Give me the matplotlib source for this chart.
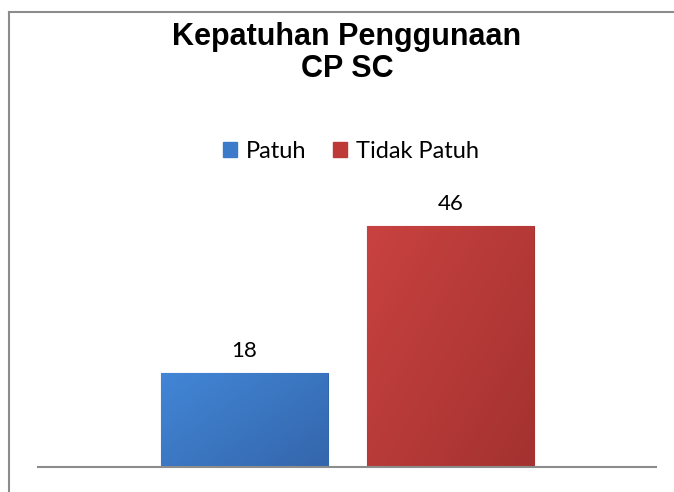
import numpy as np
import matplotlib.pyplot as plt
from matplotlib.lines import Line2D
from matplotlib.colors import LinearSegmentedColormap

series = ["Patuh", "Tidak Patuh"]
values = [18, 46]
colors = ["#3B7BC9", "#BD3A37"]
light = ["#4286D6", "#C84240"]
dark = ["#3466AC", "#A43230"]

fig = plt.figure(figsize=(6.74, 4.92), dpi=100)

# outer chart border (only top and left visible)
fig.add_artist(Line2D([9 / 674, 9 / 674], [0, 1 - 11.5 / 492], color="#8c8c8c", lw=1.5))
fig.add_artist(Line2D([9 / 674, 1], [1 - 11.5 / 492, 1 - 11.5 / 492], color="#8c8c8c", lw=1.5))

ax = fig.add_axes([38 / 674, 1 - 467 / 492, 618 / 674, 315 / 492])

bar_w = 167
x_pos = [161 - 38 + bar_w / 2, 367 - 38 + bar_w / 2]
bars = ax.bar(x_pos, values, width=bar_w, color=colors, edgecolor=dark, linewidth=0.8, zorder=2)

# soft shading inside each bar
gx, gy = np.meshgrid(np.linspace(0, 1, 60), np.linspace(0, 1, 60))
shade = 0.55 * gx + 0.45 * gy
for b, lc, dc in zip(bars, light, dark):
    cmap = LinearSegmentedColormap.from_list("g", [lc, dc])
    im = ax.imshow(shade, cmap=cmap, aspect="auto", origin="upper", zorder=3,
                   extent=[b.get_x(), b.get_x() + b.get_width(), 0, b.get_height()])
    im.set_clip_path(b)

ax.set_xlim(0, 618)
ax.set_ylim(0, 60)

for b, v in zip(bars, values):
    ax.text(b.get_x() + b.get_width() / 2, v + 2.2, str(v), ha="center", va="bottom",
            fontsize=16, family="Lato", clip_on=False)

for s in ["top", "right", "left"]:
    ax.spines[s].set_visible(False)
ax.spines["bottom"].set_color("#8c8c8c")
ax.spines["bottom"].set_linewidth(1.5)
ax.spines["bottom"].set_zorder(4)
ax.set_xticks([])
ax.set_yticks([])

fig.text(347 / 674, 1 - 53 / 492, "Kepatuhan Penggunaan\nCP SC", ha="center", va="center",
         fontsize=22, fontweight="bold", family="Liberation Sans", linespacing=1.1)

handles = [plt.Rectangle((0, 0), 1, 1, color=c) for c in colors]
fig.legend(handles, series, loc="center", bbox_to_anchor=(351 / 674, 1 - 151 / 492),
           ncol=2, frameon=False, prop={"family": "Lato", "size": 17},
           handlelength=0.6, handleheight=0.6, handletextpad=0.35, columnspacing=1.15)

fig.savefig("out.png", dpi=100)
